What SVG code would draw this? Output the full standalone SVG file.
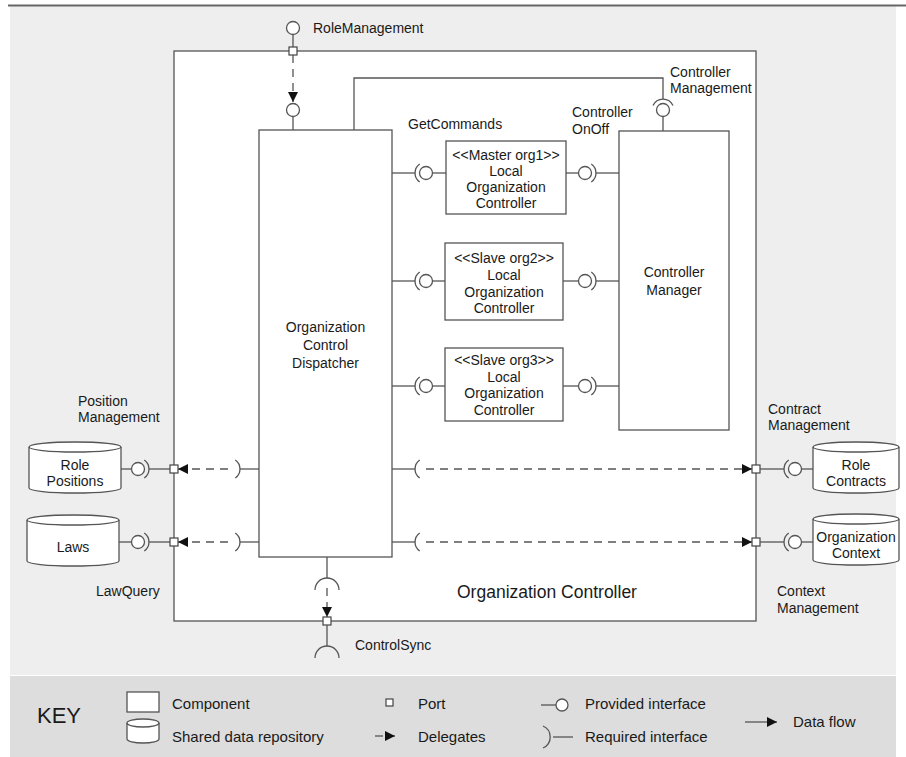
<svg xmlns="http://www.w3.org/2000/svg" width="906" height="757" viewBox="0 0 906 757">
<style>
.ln{stroke:#555;stroke-width:1.3;fill:none}
.box{fill:#fff;stroke:#555;stroke-width:1.3}
.ball{fill:#fff;stroke:#555;stroke-width:1.3}
.dash{stroke:#555;stroke-width:1.3;fill:none;stroke-dasharray:8 6}
.port{fill:#fff;stroke:#444;stroke-width:1.2}
.t{font-family:"Liberation Sans",Arial,sans-serif;font-size:14px;fill:#1a1a1a}
.k{font-family:"Liberation Sans",Arial,sans-serif;font-size:15px;fill:#1a1a1a}
.c{text-anchor:middle}
</style>
<defs>
<marker id="ah" viewBox="0 0 10 10" refX="10" refY="5" markerWidth="10" markerHeight="10" markerUnits="userSpaceOnUse" orient="auto">
<path d="M0,0 L10,5 L0,10 Z" fill="#111"/>
</marker>
</defs>
<!-- background -->
<rect x="10" y="6" width="886" height="669" fill="#eeeeee"/>
<rect x="10" y="676" width="886" height="81" fill="#dddddd"/>
<line x1="8" y1="5.5" x2="906" y2="5.5" stroke="#666" stroke-width="2"/>

<g id="organization-controller">
<rect class="box" x="174" y="51" width="582" height="570"/>
<text class="t" x="457" y="598" style="font-size:17.5px">Organization Controller</text>
</g>

<g id="dispatcher">
<rect class="box" x="259" y="130" width="133" height="427"/>
<text class="t c" x="325.5" y="332">Organization</text>
<text class="t c" x="325.5" y="350">Control</text>
<text class="t c" x="325.5" y="368">Dispatcher</text>
</g>

<g id="controller-manager">
<rect class="box" x="619" y="131" width="110" height="299"/>
<text class="t c" x="674" y="277">Controller</text>
<text class="t c" x="674" y="295">Manager</text>
</g>

<g id="loc-master">
<rect class="box" x="446" y="141" width="120" height="73"/>
<text class="t c" x="506" y="160">&lt;&lt;Master org1&gt;&gt;</text>
<text class="t c" x="506" y="176">Local</text>
<text class="t c" x="506" y="192">Organization</text>
<text class="t c" x="506" y="208">Controller</text>
</g>

<g id="loc-slave2">
<rect class="box" x="445" y="243" width="118" height="77"/>
<text class="t c" x="504" y="263">&lt;&lt;Slave org2&gt;&gt;</text>
<text class="t c" x="504" y="280">Local</text>
<text class="t c" x="504" y="297">Organization</text>
<text class="t c" x="504" y="313">Controller</text>
</g>

<g id="loc-slave3">
<rect class="box" x="445" y="348" width="118" height="73"/>
<text class="t c" x="504" y="365">&lt;&lt;Slave org3&gt;&gt;</text>
<text class="t c" x="504" y="382">Local</text>
<text class="t c" x="504" y="398">Organization</text>
<text class="t c" x="504" y="415">Controller</text>
</g>

<g id="role-positions">
<path class="box" d="M29,447 L29,488 A46,5 0 0 0 121,488 L121,447 A46,5 0 0 0 29,447 Z"/>
<path class="ln" d="M29,447 A46,5 0 0 0 121,447"/>
<text class="t c" x="75" y="470">Role</text>
<text class="t c" x="75" y="486">Positions</text>
</g>

<g id="laws">
<path class="box" d="M27,520 L27,561 A46,5 0 0 0 119,561 L119,520 A46,5 0 0 0 27,520 Z"/>
<path class="ln" d="M27,520 A46,5 0 0 0 119,520"/>
<text class="t c" x="73" y="552">Laws</text>
</g>

<g id="role-contracts">
<path class="box" d="M813,447 L813,488 A43,5 0 0 0 899,488 L899,447 A43,5 0 0 0 813,447 Z"/>
<path class="ln" d="M813,447 A43,5 0 0 0 899,447"/>
<text class="t c" x="856" y="470">Role</text>
<text class="t c" x="856" y="486">Contracts</text>
</g>

<g id="organization-context">
<path class="box" d="M813,519 L813,560 A43,5 0 0 0 899,560 L899,519 A43,5 0 0 0 813,519 Z"/>
<path class="ln" d="M813,519 A43,5 0 0 0 899,519"/>
<text class="t c" x="856" y="542">Organization</text>
<text class="t c" x="856" y="558">Context</text>
</g>

<g id="connectors">
<!-- RoleManagement -->
<line class="ln" x1="293" y1="34.5" x2="293" y2="47"/>
<circle class="ball" cx="293" cy="28" r="6.5"/>
<line class="dash" x1="293" y1="55" x2="293" y2="102" marker-end="url(#ah)"/>
<circle class="ball" cx="293" cy="110" r="6.5"/>
<line class="ln" x1="293" y1="116.5" x2="293" y2="130"/>
<rect class="port" x="289" y="47" width="8" height="8"/>
<text class="t" x="313" y="33">RoleManagement</text>

<!-- Controller Management -->
<path class="ln" d="M354,130 L354,78 L663,78 L663,99"/>
<path class="ln" d="M653,105.5 A11,11 0 0 1 673,105.5"/>
<circle class="ball" cx="663" cy="110" r="6.5"/>
<line class="ln" x1="663" y1="116.5" x2="663" y2="131"/>
<text class="t" x="670" y="77">Controller</text>
<text class="t" x="670" y="93">Management</text>

<text class="t" x="408" y="129">GetCommands</text>
<text class="t" x="572" y="117">Controller</text>
<text class="t" x="572" y="134">OnOff</text>

<!-- LOC interfaces -->
<g>
<line class="ln" x1="392" y1="173" x2="415" y2="173"/>
<path class="ln" d="M419.7,164 A11,11 0 0 0 419.7,182"/>
<circle class="ball" cx="426" cy="173" r="6.5"/>
<line class="ln" x1="432.5" y1="173" x2="446" y2="173"/>
<line class="ln" x1="566" y1="173" x2="578.5" y2="173"/>
<circle class="ball" cx="585" cy="173" r="6.5"/>
<path class="ln" d="M591.3,164 A11,11 0 0 1 591.3,182"/>
<line class="ln" x1="596" y1="173" x2="619" y2="173"/>
</g>
<g>
<line class="ln" x1="392" y1="281" x2="415" y2="281"/>
<path class="ln" d="M419.7,272 A11,11 0 0 0 419.7,290"/>
<circle class="ball" cx="426" cy="281" r="6.5"/>
<line class="ln" x1="432.5" y1="281" x2="445" y2="281"/>
<line class="ln" x1="563" y1="281" x2="578.5" y2="281"/>
<circle class="ball" cx="585" cy="281" r="6.5"/>
<path class="ln" d="M591.3,272 A11,11 0 0 1 591.3,290"/>
<line class="ln" x1="596" y1="281" x2="619" y2="281"/>
</g>
<g>
<line class="ln" x1="392" y1="386" x2="415" y2="386"/>
<path class="ln" d="M419.7,377 A11,11 0 0 0 419.7,395"/>
<circle class="ball" cx="426" cy="386" r="6.5"/>
<line class="ln" x1="432.5" y1="386" x2="445" y2="386"/>
<line class="ln" x1="563" y1="386" x2="578.5" y2="386"/>
<circle class="ball" cx="585" cy="386" r="6.5"/>
<path class="ln" d="M591.3,377 A11,11 0 0 1 591.3,395"/>
<line class="ln" x1="596" y1="386" x2="619" y2="386"/>
</g>

<!-- Left: Position Management -->
<line class="ln" x1="121" y1="469" x2="131.5" y2="469"/>
<circle class="ball" cx="138" cy="469" r="6.5"/>
<path class="ln" d="M144.3,460 A11,11 0 0 1 144.3,478"/>
<line class="ln" x1="149" y1="469" x2="170" y2="469"/>
<line class="dash" x1="228" y1="469" x2="178" y2="469" marker-end="url(#ah)"/>
<path class="ln" d="M235.3,460 A11,11 0 0 1 235.3,478"/>
<line class="ln" x1="240" y1="469" x2="259" y2="469"/>
<rect class="port" x="170" y="465" width="8" height="8"/>
<text class="t" x="78" y="406">Position</text>
<text class="t" x="78" y="422">Management</text>

<!-- Left: LawQuery -->
<line class="ln" x1="119" y1="542" x2="131.5" y2="542"/>
<circle class="ball" cx="138" cy="542" r="6.5"/>
<path class="ln" d="M144.3,533 A11,11 0 0 1 144.3,551"/>
<line class="ln" x1="149" y1="542" x2="170" y2="542"/>
<line class="dash" x1="228" y1="542" x2="178" y2="542" marker-end="url(#ah)"/>
<path class="ln" d="M235.3,533 A11,11 0 0 1 235.3,551"/>
<line class="ln" x1="240" y1="542" x2="259" y2="542"/>
<rect class="port" x="170" y="538" width="8" height="8"/>
<text class="t" x="96" y="596">LawQuery</text>

<!-- Right: Contract Management -->
<line class="ln" x1="392" y1="469" x2="415" y2="469"/>
<path class="ln" d="M419.7,460 A11,11 0 0 0 419.7,478"/>
<line class="dash" x1="426" y1="469" x2="752" y2="469" marker-end="url(#ah)"/>
<rect class="port" x="752" y="465" width="8" height="8"/>
<line class="ln" x1="760" y1="469" x2="784" y2="469"/>
<path class="ln" d="M788.7,460 A11,11 0 0 0 788.7,478"/>
<circle class="ball" cx="795" cy="469" r="6.5"/>
<line class="ln" x1="801.5" y1="469" x2="813" y2="469"/>
<text class="t" x="768" y="414">Contract</text>
<text class="t" x="768" y="430">Management</text>

<!-- Right: Context Management -->
<line class="ln" x1="392" y1="542" x2="415" y2="542"/>
<path class="ln" d="M419.7,533 A11,11 0 0 0 419.7,551"/>
<line class="dash" x1="426" y1="542" x2="752" y2="542" marker-end="url(#ah)"/>
<rect class="port" x="752" y="538" width="8" height="8"/>
<line class="ln" x1="760" y1="542" x2="784" y2="542"/>
<path class="ln" d="M788.7,533 A11,11 0 0 0 788.7,551"/>
<circle class="ball" cx="795" cy="542" r="6.5"/>
<line class="ln" x1="801.5" y1="542" x2="813" y2="542"/>
<text class="t" x="777" y="596">Context</text>
<text class="t" x="777" y="613">Management</text>

<!-- Bottom: ControlSync -->
<line class="ln" x1="327" y1="557" x2="327" y2="578"/>
<path class="ln" d="M315,590 A12,12 0 0 1 339,590"/>
<line class="dash" x1="327" y1="588" x2="327" y2="617" marker-end="url(#ah)"/>
<rect class="port" x="323" y="617" width="8" height="8"/>
<line class="ln" x1="327" y1="625" x2="327" y2="646"/>
<path class="ln" d="M315,658 A12,12 0 0 1 339,658"/>
<text class="t" x="355" y="650">ControlSync</text>
</g>

<g id="key">
<text class="k" x="37" y="723" style="font-size:22px">KEY</text>
<rect class="box" x="127" y="692" width="32" height="20"/>
<text class="k" x="172" y="709">Component</text>
<path class="box" d="M127,723 L127,739 A16,4 0 0 0 159,739 L159,723 A16,4 0 0 0 127,723 Z"/>
<path class="ln" d="M127,723 A16,4 0 0 0 159,723"/>
<text class="k" x="172" y="742">Shared data repository</text>
<rect class="port" x="386" y="699" width="7" height="7"/>
<text class="k" x="418" y="709">Port</text>
<line class="ln" x1="375" y1="736" x2="383" y2="736"/>
<line class="ln" x1="388" y1="736" x2="395" y2="736" marker-end="url(#ah)"/>
<text class="k" x="418" y="742">Delegates</text>
<line class="ln" x1="541" y1="705" x2="556" y2="705"/>
<circle class="ball" cx="562" cy="705" r="6"/>
<text class="k" x="585" y="709">Provided interface</text>
<path class="ln" d="M543,726 A12,12 0 0 1 543,748"/>
<line class="ln" x1="553" y1="737" x2="573" y2="737"/>
<text class="k" x="585" y="742">Required interface</text>
<line class="ln" x1="745" y1="722" x2="777" y2="722" marker-end="url(#ah)"/>
<text class="k" x="793" y="727">Data flow</text>
</g>
</svg>
